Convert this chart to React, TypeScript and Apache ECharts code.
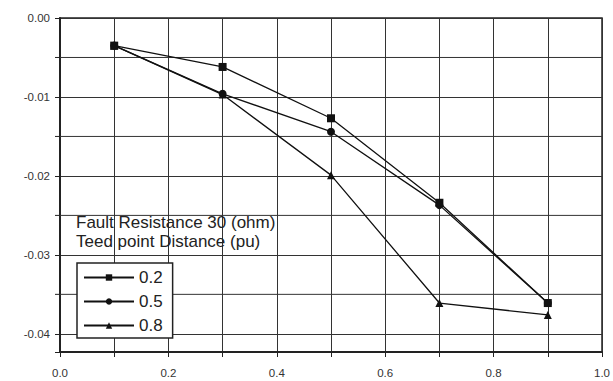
import React, { useEffect, useRef } from "react";
import * as echarts from "echarts";

const xValues = [0.1, 0.3, 0.5, 0.7, 0.9];
const s02 = [-0.0035, -0.0062, -0.0127, -0.0234, -0.0361];
const s05 = [-0.0035, -0.0096, -0.0144, -0.0237, -0.0361];
const s08 = [-0.0035, -0.0097, -0.0199, -0.0361, -0.0376];
const seriesNames = ["0.2", "0.5", "0.8"];
const yLabelValues = [0, -0.01, -0.02, -0.03, -0.04];
const yMinorGrid = [-0.005, -0.015, -0.025, -0.035];
const titleLines = ["Fault Resistance 30 (ohm)", "Teed point Distance (pu)"];

const FONT = "'Liberation Sans', Arial, sans-serif";

export default function App() {
  const ref = useRef<HTMLDivElement>(null);
  useEffect(() => {
    if (!ref.current) return;
    const chart = echarts.init(ref.current, null, { renderer: "svg" });
    const mk = (name: string, vals: number[], symbol: string, size: number) => ({
      name,
      type: "line",
      data: xValues.map((x, i) => [x, vals[i]]),
      symbol,
      symbolSize: size,
      lineStyle: { color: "#111", width: 1.3 },
      itemStyle: { color: "#111" },
      z: 5,
    });
    chart.setOption({
      animation: false,
      backgroundColor: "#fff",
      grid: {
        left: 60,
        right: 8,
        top: 18,
        bottom: 29,
        show: true,
        borderColor: "#222",
        borderWidth: 1.5,
        backgroundColor: "#fff",
      },
      xAxis: {
        type: "value",
        min: 0,
        max: 1,
        interval: 0.1,
        axisLine: { show: true, onZero: false, lineStyle: { color: "#222", width: 2 } },
        axisTick: { show: true, inside: false, length: 5, lineStyle: { color: "#222" } },
        splitLine: { show: true, lineStyle: { color: "#333", width: 1 } },
        axisLabel: {
          color: "#333",
          fontFamily: FONT,
          fontSize: 11.5,
          margin: 15,
          formatter: (v: number) => (Math.round(v * 10) % 2 === 0 ? v.toFixed(1) : ""),
        },
      },
      yAxis: {
        type: "value",
        min: -0.0423,
        max: 0,
        axisLine: { show: true, onZero: false, lineStyle: { color: "#222", width: 2 } },
        axisTick: { show: true, length: 5, lineStyle: { color: "#222" } },
        splitLine: { show: true, lineStyle: { color: "#333", width: 1 } },
        axisLabel: {
          color: "#333",
          fontFamily: FONT,
          fontSize: 11.5,
          margin: 10,
          customValues: yLabelValues,
          formatter: (v: number) => v.toFixed(2),
        },
      },
      legend: {
        data: seriesNames,
        orient: "vertical",
        left: 77,
        top: 263,
        itemWidth: 50,
        itemHeight: 8,
        itemGap: 7,
        padding: [6, 10, 4, 6],
        backgroundColor: "#fff",
        borderColor: "#222",
        borderWidth: 1.5,
        borderRadius: 0,
        textStyle: { fontFamily: FONT, fontSize: 17, color: "#222" },
        z: 10,
      },
      graphic: titleLines.map((t, i) => ({
        type: "text",
        left: 76,
        top: 214 + i * 19,
        z: 20,
        style: { text: t, fontFamily: FONT, fontSize: 17, fill: "#222" },
      })),
      series: [
        {
          name: "minor-grid",
          type: "custom",
          silent: true,
          z: 1,
          data: yMinorGrid.map((v) => [v]),
          renderItem: (params: any, api: any) => {
            const v = api.value(0);
            const p0 = api.coord([0, v]);
            const p1 = api.coord([1, v]);
            return {
              type: "group",
              children: [
                {
                  type: "line",
                  shape: { x1: p0[0], y1: p0[1], x2: p1[0], y2: p1[1] },
                  style: { stroke: "#333", lineWidth: 1 },
                },
                {
                  type: "line",
                  shape: { x1: p0[0] - 5, y1: p0[1], x2: p0[0], y2: p0[1] },
                  style: { stroke: "#222", lineWidth: 1 },
                },
              ],
            };
          },
          clip: false,
        },
        mk(seriesNames[0], s02, "rect", 8),
        mk(seriesNames[1], s05, "circle", 8),
        mk(seriesNames[2], s08, "triangle", 8),
      ],
    });
    return () => chart.dispose();
  }, []);
  return (
    <div
      ref={ref}
      style={{ position: "fixed", left: 0, top: 0, width: 613, height: 381 }}
    />
  );
}
